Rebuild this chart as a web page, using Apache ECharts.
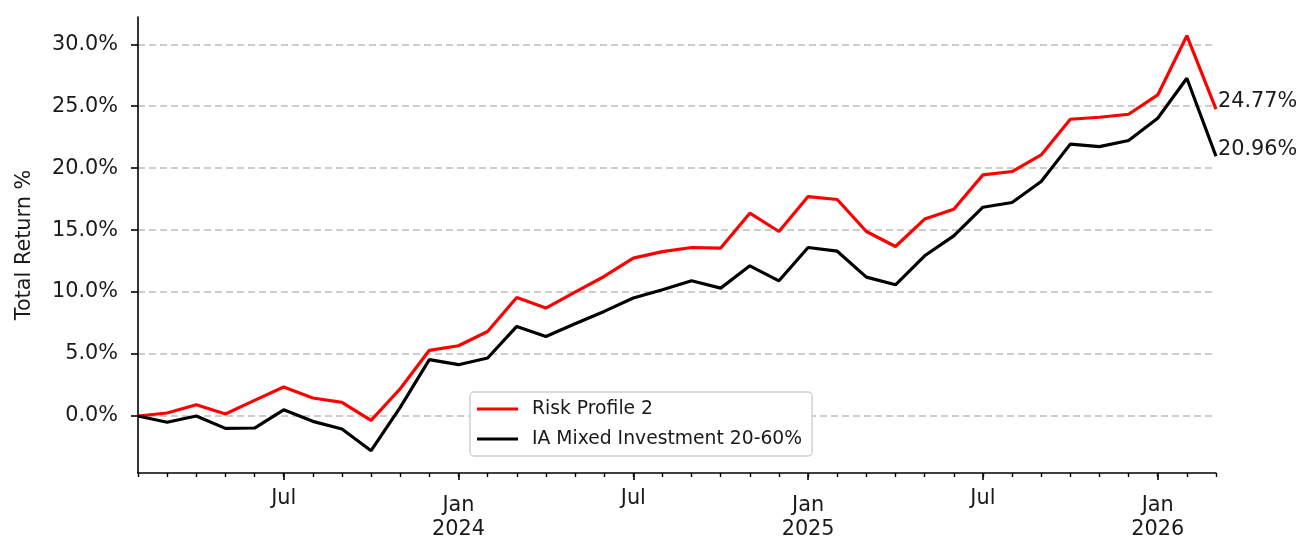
<!DOCTYPE html>
<html><head><meta charset="utf-8">
<script src="https://cdn.jsdelivr.net/npm/echarts@6/dist/echarts.min.js"></script>
<style>html,body{margin:0;padding:0;background:#fff}#c{width:1304px;height:536px}</style>
</head><body><div id="c"></div>
<script>
const months = [
  '2023-02','2023-03','2023-04','2023-05','2023-06','2023-07','2023-08','2023-09','2023-10','2023-11','2023-12',
  '2024-01','2024-02','2024-03','2024-04','2024-05','2024-06','2024-07','2024-08','2024-09','2024-10','2024-11','2024-12',
  '2025-01','2025-02','2025-03','2025-04','2025-05','2025-06','2025-07','2025-08','2025-09','2025-10','2025-11','2025-12',
  '2026-01','2026-02','2026-03'
];
const riskProfile2 = [
  0.0, 0.24, 0.91, 0.16, 1.26, 2.34, 1.45, 1.10, -0.35, 2.20, 5.30,
  5.67, 6.82, 9.56, 8.71, 10.00, 11.26, 12.74, 13.27, 13.60, 13.55, 16.37, 14.89,
  17.71, 17.47, 14.89, 13.68, 15.89, 16.69, 19.46, 19.73, 21.07, 23.95, 24.11, 24.35,
  25.91, 30.69, 24.77
];
const iaMixed = [
  0.0, -0.50, 0.0, -1.00, -0.97, 0.50, -0.43, -1.05, -2.80, 0.70, 4.55,
  4.14, 4.68, 7.23, 6.42, 7.44, 8.44, 9.52, 10.19, 10.91, 10.32, 12.12, 10.91,
  13.60, 13.30, 11.21, 10.59, 12.93, 14.54, 16.85, 17.23, 18.92, 21.94, 21.74, 22.23,
  24.03, 27.26, 20.96
];
const yTicks = [0, 5, 10, 15, 20, 25, 30];
const monthLabels = { '01': 'Jan', '07': 'Jul' };
const seriesNames = ['Risk Profile 2', 'IA Mixed Investment 20-60%'];
const seriesColors = ['#ff0000', '#000000'];

const FONT = 'DejaVu Sans';
const isMajor = (idx) => monthLabels[months[idx].slice(5)] !== undefined;

const endLabel = {
  show: true, distance: 2, offset: [0, -7],
  formatter: (p) => Number(p.value).toFixed(2) + '%',
  fontFamily: FONT, fontSize: 20.8, color: '#1a1a1a'
};

const chart = echarts.init(document.getElementById('c'), null, { renderer: 'canvas' });
chart.setOption({
  animation: false,
  backgroundColor: '#ffffff',
  grid: { left: 138, right: 88, top: 17, bottom: 63, containLabel: false, outerBoundsMode: 'none' },
  legend: {
    orient: 'vertical', left: 470, top: 392,
    padding: [7, 10, 7, 7],
    backgroundColor: '#ffffff', borderColor: '#d0d0d0', borderWidth: 1.5, borderRadius: 4,
    itemWidth: 41, itemHeight: 3, itemGap: 10,
    icon: 'rect',
    textStyle: { fontFamily: FONT, fontSize: 18.75, color: '#1a1a1a', lineHeight: 20, padding: [0, 0, 0, 9] },
    data: seriesNames
  },
  xAxis: [
    {
      type: 'category', data: months, boundaryGap: false, position: 'bottom',
      axisLine: { show: true, onZero: false, lineStyle: { color: '#000', width: 1.6 } },
      axisTick: { show: true, interval: 0, length: 4, lineStyle: { color: '#000', width: 1.4 } },
      axisLabel: { show: false },
      splitLine: { show: false }
    },
    {
      type: 'category', data: months, boundaryGap: false, position: 'bottom',
      axisLine: { show: false, onZero: false },
      axisTick: { show: true, interval: (idx) => isMajor(idx), length: 7, lineStyle: { color: '#000', width: 1.6 } },
      axisLabel: {
        show: true, interval: (idx) => isMajor(idx), margin: 21,
        fontFamily: FONT, fontSize: 20.8, color: '#1a1a1a',
        formatter: (v) => {
          const m = v.slice(5), y = v.slice(0, 4);
          if (m === '07') return '{a|' + monthLabels[m] + '}';
          if (m === '01') return '{b|' + monthLabels[m] + '}\n{b|' + y + '}';
          return '';
        },
        rich: {
          a: { fontFamily: FONT, fontSize: 20.8, color: '#1a1a1a', lineHeight: 10 },
          b: { fontFamily: FONT, fontSize: 20.8, color: '#1a1a1a', lineHeight: 24 }
        }
      },
      splitLine: { show: false }
    }
  ],
  yAxis: {
    type: 'value', min: -4.6, max: 32.2,
    name: 'Total Return %', nameLocation: 'middle', nameGap: 103, nameRotate: 90,
    nameTextStyle: { fontFamily: FONT, fontSize: 20.8, color: '#1a1a1a' },
    axisLine: { show: true, lineStyle: { color: '#000', width: 1.6 } },
    axisTick: { show: true, length: 7, customValues: yTicks, lineStyle: { color: '#000', width: 1.6 } },
    axisLabel: {
      show: true, margin: 20, customValues: yTicks,
      fontFamily: FONT, fontSize: 20.8, color: '#1a1a1a',
      formatter: (v) => v.toFixed(1) + '%'
    },
    splitLine: { show: true, lineStyle: { color: '#bdbdbd', width: 1.6, type: [7, 4] } }
  },
  series: [
    {
      name: seriesNames[0], type: 'line', data: riskProfile2, xAxisIndex: 0,
      showSymbol: false, symbol: 'none', color: seriesColors[0],
      lineStyle: { color: seriesColors[0], width: 3.2 }, z: 3,
      endLabel: endLabel
    },
    {
      name: seriesNames[1], type: 'line', data: iaMixed, xAxisIndex: 0,
      showSymbol: false, symbol: 'none', color: seriesColors[1],
      lineStyle: { color: seriesColors[1], width: 3.2 }, z: 4,
      endLabel: endLabel
    }
  ]
});
</script></body></html>
